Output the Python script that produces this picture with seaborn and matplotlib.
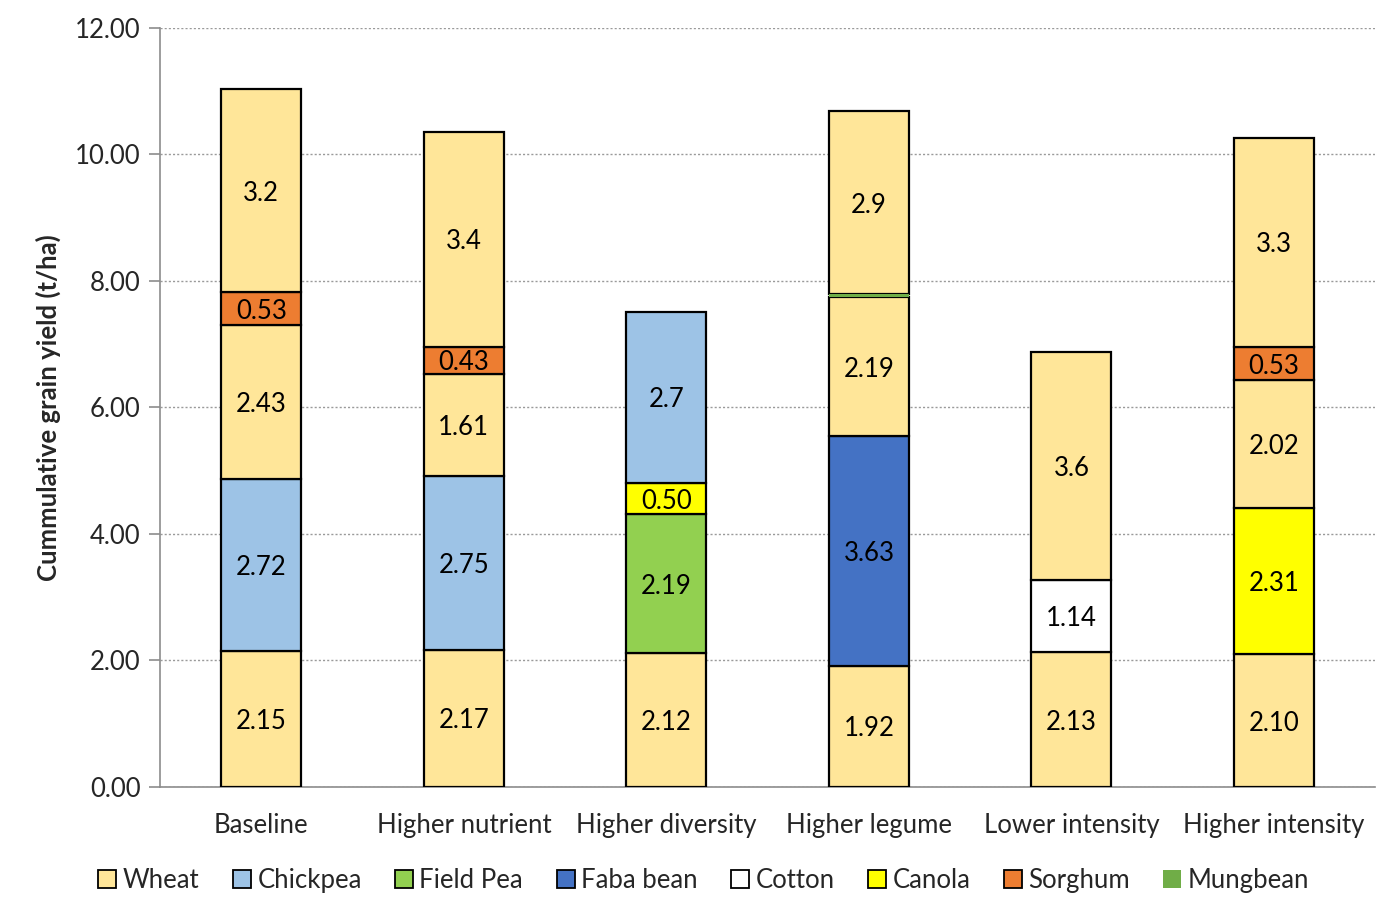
"""Cumulative grain yield by farming system scenario - stacked bars."""
import matplotlib
matplotlib.use("Agg")
import matplotlib.pyplot as plt
from matplotlib.patches import Patch
import numpy as np
import pandas as pd
import seaborn as sns

# -- Data ----------------------------------------------------------------------
SCENARIOS = ["Baseline", "Higher nutrient", "Higher diversity",
             "Higher legume", "Lower intensity", "Higher intensity"]

STACK_CROPS = [
    ["Wheat", "Chickpea", "Wheat", "Sorghum", "Wheat"],
    ["Wheat", "Chickpea", "Wheat", "Sorghum", "Wheat"],
    ["Wheat", "Field Pea", "Canola", "Chickpea"],
    ["Wheat", "Faba bean", "Wheat", "Mungbean", "Wheat"],
    ["Wheat", "Cotton", "Wheat"],
    ["Wheat", "Canola", "Wheat", "Sorghum", "Wheat"],
]
STACK_VALUES = [
    [2.15, 2.72, 2.43, 0.53, 3.2],
    [2.17, 2.75, 1.61, 0.43, 3.4],
    [2.12, 2.19, 0.50, 2.7],
    [1.92, 3.63, 2.19, 0.05, 2.9],
    [2.13, 1.14, 3.6],
    [2.10, 2.31, 2.02, 0.53, 3.3],
]
STACK_LABELS = [
    ["2.15", "2.72", "2.43", "0.53", "3.2"],
    ["2.17", "2.75", "1.61", "0.43", "3.4"],
    ["2.12", "2.19", "0.50", "2.7"],
    ["1.92", "3.63", "2.19", "", "2.9"],
    ["2.13", "1.14", "3.6"],
    ["2.10", "2.31", "2.02", "0.53", "3.3"],
]

LEGEND_CROPS = ["Wheat", "Chickpea", "Field Pea", "Faba bean",
                "Cotton", "Canola", "Sorghum", "Mungbean"]
CROP_COLORS = {
    "Wheat": "#FFE699", "Chickpea": "#9DC3E6", "Field Pea": "#92D050",
    "Faba bean": "#4472C4", "Cotton": "#FFFFFF", "Canola": "#FFFF00",
    "Sorghum": "#ED7D31", "Mungbean": "#70AD47",
}
NO_EDGE = {"Mungbean"}

# -- Style ---------------------------------------------------------------------
sns.set_theme(style="white")
plt.rcParams["font.family"] = ["Lato", "DejaVu Sans"]
FS = 18.5
AXIS_GREY = "#8C8C8C"

rows = []
for i, scen in enumerate(SCENARIOS):
    for j, (crop, val, lab) in enumerate(zip(STACK_CROPS[i], STACK_VALUES[i], STACK_LABELS[i])):
        rows.append({"scenario": scen, "x": i, "layer": j, "crop": crop,
                     "value": val, "label": lab})
df = pd.DataFrame(rows)
df["bottom"] = df.groupby("scenario")["value"].cumsum() - df["value"]

fig = plt.figure(figsize=(13.99, 9.15), dpi=100)
ax = fig.add_axes([0.1144, 0.1399, 0.8686, 0.8295])

for _, r in df.iterrows():
    no_edge = r["crop"] in NO_EDGE
    ax.bar(r["x"], r["value"], bottom=r["bottom"], width=0.395,
           color=CROP_COLORS[r["crop"]], edgecolor="none" if no_edge else "black",
           linewidth=1.6, zorder=3.5 if no_edge else 3)
    if r["label"]:
        ax.text(r["x"], r["bottom"] + r["value"] / 2, r["label"],
                ha="center", va="center_baseline", fontsize=FS, color="black", zorder=4)

ax.set_xlim(-0.5, len(SCENARIOS) - 0.5)
ax.set_ylim(0, 12)
ax.set_yticks(np.arange(0, 12.01, 2))
ax.set_yticklabels([f"{v:.2f}" for v in np.arange(0, 12.01, 2)], fontsize=FS)
ax.yaxis.grid(True, linestyle=(0, (1.5, 1.5)), color="#9A9A9A", linewidth=1.0, zorder=0)

ax.set_xticks(range(len(SCENARIOS)))
ax.set_xticklabels(SCENARIOS, fontsize=FS)
ax.set_xticks(np.arange(-0.5, len(SCENARIOS)), minor=True)
ax.tick_params(axis="x", which="major", length=0, pad=19)
ax.tick_params(axis="x", which="minor", length=9, color=AXIS_GREY, width=1.2, direction="out")
ax.tick_params(axis="y", length=8, color=AXIS_GREY, width=1.2, direction="out", pad=6, left=True)

for side in ["top", "right"]:
    ax.spines[side].set_visible(False)
for side in ["left", "bottom"]:
    ax.spines[side].set_color(AXIS_GREY)
    ax.spines[side].set_linewidth(1.2)

ax.set_ylabel("Cummulative grain yield (t/ha)", fontsize=FS, fontweight="bold", labelpad=10)

handles = [Patch(facecolor=CROP_COLORS[c],
                 edgecolor="none" if c in NO_EDGE else "black",
                 linewidth=1.3, label=c) for c in LEGEND_CROPS]
fig.legend(handles=handles, loc="center", bbox_to_anchor=(0.503, 0.038), ncol=len(LEGEND_CROPS),
           frameon=False, fontsize=FS, handlelength=0.7, handleheight=0.7,
           handletextpad=0.25, columnspacing=1.3)

fig.savefig("out.png", dpi=100)
